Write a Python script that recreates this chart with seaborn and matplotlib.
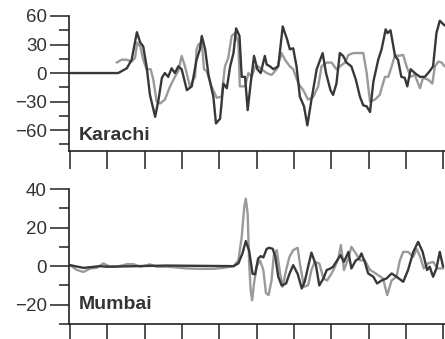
import numpy as np
import pandas as pd
import matplotlib
matplotlib.use("Agg")
import matplotlib.pyplot as plt
from matplotlib.ticker import MultipleLocator
import seaborn as sns

# --- data (x in tick units, 0..10) ---
karachi_dark_x = [0.0, 1.29, 1.52, 1.65, 1.79, 1.88, 1.96, 2.05, 2.14, 2.28, 2.37, 2.46, 2.54,
                  2.63, 2.72, 2.81, 2.90, 2.99, 3.13, 3.26, 3.39, 3.48, 3.53, 3.62, 3.71, 3.84,
                  3.91, 4.02, 4.11, 4.20, 4.29, 4.38, 4.45, 4.54, 4.60, 4.69, 4.76, 4.84, 4.93,
                  5.02, 5.11, 5.22, 5.27, 5.36, 5.45, 5.58, 5.70, 5.82, 5.89, 5.98, 6.07, 6.16,
                  6.27, 6.36, 6.47, 6.61, 6.77, 6.86, 6.98, 7.05, 7.14, 7.23, 7.32, 7.41, 7.54,
                  7.66, 7.77, 7.86, 7.95, 8.04, 8.13, 8.26, 8.35, 8.46, 8.51, 8.59, 8.71, 8.79,
                  8.88, 8.97, 9.04, 9.13, 9.24, 9.38, 9.51, 9.64, 9.73, 9.82, 9.91, 10.04]
karachi_dark_y = [0, 0, 5, 14, 43, 32, 28, 7, -23, -46, -28, -5, 0,
                  -4, 5, 0, 7, 4, -18, -14, 14, 25, 39, 25, -2, -25,
                  -53, -48, -11, -16, 7, 21, 47, 39, -4, -4, -39, -11, 18,
                  4, 0, 18, 9, 7, 4, 7, 49, 35, 25, 26, 7, -25,
                  -35, -55, -28, 4, 21, 0, -18, -23, -11, 21, 18, 11, 7,
                  -7, -25, -34, -35, -41, -9, 14, 25, 46, 42, 45, 18, 14,
                  -4, -5, -14, 4, 0, -4, -4, 2, 7, 42, 55, 50]

karachi_gray_x = [1.25, 1.38, 1.52, 1.65, 1.74, 1.80, 1.88, 1.96, 2.05, 2.16, 2.23, 2.32, 2.41,
                  2.54, 2.68, 2.81, 2.90, 2.99, 3.08, 3.21, 3.35, 3.39, 3.44, 3.53, 3.59, 3.66,
                  3.79, 3.93, 4.06, 4.15, 4.24, 4.33, 4.42, 4.51, 4.55, 4.69, 4.78, 4.87, 4.96,
                  5.04, 5.13, 5.27, 5.40, 5.54, 5.67, 5.76, 5.89, 5.98, 6.12, 6.25, 6.38, 6.52,
                  6.65, 6.74, 6.88, 7.01, 7.14, 7.23, 7.37, 7.46, 7.59, 7.72, 7.86, 7.95, 8.04,
                  8.17, 8.30, 8.44, 8.53, 8.62, 8.71, 8.79, 8.93, 9.02, 9.13, 9.24, 9.38, 9.46,
                  9.60, 9.71, 9.78, 9.87, 9.96, 10.04]
karachi_gray_y = [11, 14, 14, 12, 16, 32, 28, 14, 4, 4, -7, -30, -32,
                  -28, -14, -4, 2, 18, 7, -14, -4, 25, 30, 32, 4, 2,
                  -14, -26, -25, 7, 16, 39, 42, 32, -14, -14, 0, -4, 7,
                  7, 4, 0, -2, 4, 21, 14, 7, 4, -11, -18, -28, -25,
                  -14, 7, 11, 11, 4, 7, 11, 19, 21, 21, 21, 0, -30,
                  -28, -23, -4, -4, 7, 19, 18, 19, 7, -4, -2, -16, -5,
                  -7, -11, 7, 12, 11, 7]

mumbai_dark_x = [0.0, 0.36, 0.80, 0.98, 2.59, 4.38, 4.51, 4.62, 4.71, 4.80, 4.89, 4.96, 5.04,
                 5.11, 5.18, 5.27, 5.34, 5.43, 5.50, 5.58, 5.67, 5.79, 5.88, 5.98, 6.10, 6.21,
                 6.29, 6.38, 6.47, 6.59, 6.68, 6.79, 6.88, 6.98, 7.05, 7.16, 7.25, 7.34, 7.46,
                 7.54, 7.66, 7.75, 7.81, 7.90, 7.99, 8.13, 8.23, 8.35, 8.48, 8.62, 8.75, 8.93,
                 9.06, 9.20, 9.33, 9.45, 9.57, 9.64, 9.73, 9.82, 9.91, 10.0]
mumbai_dark_y = [0.5, -0.9, 0, -0.3, 0.3, 0, 1.4, 6.6, 13, 8, -4, -4.2, 4,
                 5.2, 4.5, 9, 9.5, 9, 5, -5.5, -10, -9, -4, 0.5, -4, -11.6,
                 -8, -0.3, 7, 0.5, -10, -6.4, -2, -1.2, -0.3, 3, 5.7, 2.2, 7.4,
                 -1.2, 3, 4, 6.6, 2.2, -3.8, -5.5, -9, -7.4, -6.4, -3.8, -5.5, -8.1,
                 -2, 7.4, 12.6, 7.4, -2, -0.3, -5.5, -1.2, 7.4, -0.3]

mumbai_gray_x = [0.0, 0.18, 0.36, 0.54, 0.71, 0.89, 1.07, 1.25, 1.52, 1.70, 1.88, 2.14, 2.32,
                 2.59, 2.86, 3.13, 3.48, 3.84, 4.11, 4.38, 4.51, 4.60, 4.67, 4.71, 4.76, 4.80,
                 4.84, 4.88, 4.93, 5.00, 5.09, 5.18, 5.25, 5.32, 5.40, 5.46, 5.54, 5.63, 5.70,
                 5.79, 5.88, 5.98, 6.10, 6.16, 6.27, 6.38, 6.47, 6.56, 6.68, 6.79, 6.89, 7.01,
                 7.10, 7.19, 7.26, 7.34, 7.46, 7.54, 7.66, 7.77, 7.90, 8.04, 8.13, 8.26, 8.39,
                 8.50, 8.62, 8.75, 8.84, 8.93, 9.06, 9.20, 9.29, 9.39, 9.48, 9.59, 9.73, 9.86, 10.0]
mumbai_gray_y = [0.5, -2, -3, -1.2, -0.9, 1.4, -0.3, -0.3, 1, 1, -0.3, 0.9, -0.3,
                 -0.3, -0.7, -1.2, -1.4, -1.4, -0.9, 0, 3, 15, 31, 35, 27, 1.4,
                 -12.5, -17.7, -9, -0.3, 3, -2, -14, -15, -7.4, 5.7, 8.3, -3.8, -10.7,
                 -2, 4.8, 8.3, 9.5, 1.4, -10.7, -9.9, -2, 2.2, 1.4, -6.4, -7.4, -3.8,
                 -0.3, 4, 11, -2, 4, 10, 6.6, 3, 3, -2, -3, -4.7, -6.4,
                 -15, -7.4, -5.5, 3, 7.4, 7.4, 4.8, 9, 4.5, -1.2, 1.4, 2.2, -1.2, -1.2]

panels = [
    ("Karachi", karachi_dark_x, karachi_dark_y, karachi_gray_x, karachi_gray_y,
     (-82, 60), [60, 30, 0, -30, -60], 15),
    ("Mumbai", mumbai_dark_x, mumbai_dark_y, mumbai_gray_x, mumbai_gray_y,
     (-30, 40), [40, 20, 0, -20], 10),
]

sns.set_style("ticks")
plt.rcParams["font.family"] = ["Liberation Sans", "DejaVu Sans"]

fig = plt.figure(figsize=(4.45, 3.39), dpi=100)
rects = [[69 / 445, 1 - 151 / 339, 376 / 445, 135 / 339],
         [69 / 445, 1 - 324 / 339, 376 / 445, 135 / 339]]
label_y = [0.08, 0.11]

for rect, ly, (name, dx, dy, gx, gy, ylim, yticks, minor) in zip(rects, label_y, panels):
    ax = fig.add_axes(rect)
    df = pd.concat([
        pd.DataFrame({"x": gx, "y": gy, "s": "gray"}),
        pd.DataFrame({"x": dx, "y": dy, "s": "dark"}),
    ])
    sns.lineplot(data=df, x="x", y="y", hue="s", hue_order=["gray", "dark"],
                 palette={"gray": "#9a9a9a", "dark": "#383838"},
                 estimator=None, sort=False, legend=False, linewidth=1.7, ax=ax)
    ax.set_xlim(-0.03, 10.05)
    ax.set_ylim(*ylim)
    ax.set_yticks(yticks)
    ax.yaxis.set_minor_locator(MultipleLocator(minor))
    ax.set_xticks(np.arange(0, 11))
    ax.set_xticklabels([])
    ax.set_xlabel("")
    ax.set_ylabel("")
    sns.despine(ax=ax)
    for sp in ("left", "bottom"):
        ax.spines[sp].set_linewidth(1.2)
        ax.spines[sp].set_color("#222222")
    ax.tick_params(axis="y", which="major", length=14, width=1.1, labelsize=13.5,
                   pad=2, color="#222222", labelcolor="#333333")
    ax.tick_params(axis="y", which="minor", length=7, width=1.1, color="#222222")
    ax.tick_params(axis="x", which="major", length=13, width=1.1, color="#222222")
    ax.text(0.027, ly, name, transform=ax.transAxes, fontsize=14, fontweight="bold",
            color="#333333", ha="left", va="baseline")

fig.savefig("out.png", dpi=100)
